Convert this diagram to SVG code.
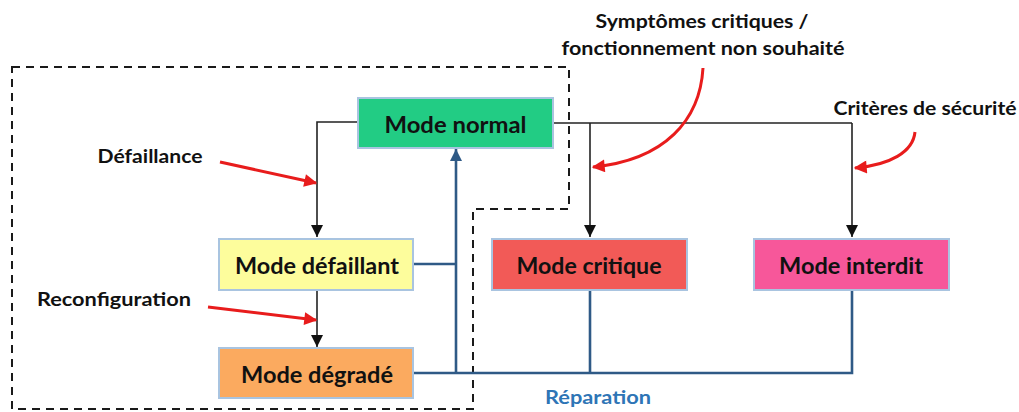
<svg xmlns="http://www.w3.org/2000/svg" width="1019" height="412" viewBox="0 0 1019 412">
<style>
.box{stroke:#a9c4e0;stroke-width:2}
.t{font-family:Lato,"Liberation Sans",sans-serif;font-weight:bold;fill:#111;text-anchor:middle;dominant-baseline:central}
.bt{font-size:22px}
.lb{font-size:19px}
.blk{fill:none;stroke:#222;stroke-width:1.6}
.blu{fill:none;stroke:#2f5a86;stroke-width:2.6}
.red{fill:none;stroke:#e81c1c;stroke-width:3}
</style>
<defs>
<marker id="ab" viewBox="0 0 10 10" refX="10" refY="5" markerWidth="13" markerHeight="12" markerUnits="userSpaceOnUse" orient="auto"><path d="M0,0 L10,5 L0,10 Z" fill="#111"/></marker>
<marker id="au" viewBox="0 0 10 10" refX="10" refY="5" markerWidth="14" markerHeight="12" markerUnits="userSpaceOnUse" orient="auto"><path d="M0,0 L10,5 L0,10 Z" fill="#2f5a86"/></marker>
<marker id="ar" viewBox="0 0 10 10" refX="9" refY="5" markerWidth="15" markerHeight="13" markerUnits="userSpaceOnUse" orient="auto"><path d="M0,0 L10,5 L0,10 Z" fill="#e81c1c"/></marker>
</defs>
<rect width="1019" height="412" fill="#fff"/>
<path d="M12,67 H569 V209 H473 V409 H12 Z" fill="none" stroke="#1a1a1a" stroke-width="2" stroke-dasharray="8,6"/>
<g id="connectors">
<path class="blk" d="M358,122 H317 V237" marker-end="url(#ab)"/>
<path class="blk" d="M553,123 H852"/>
<path class="blk" d="M590,123 V237" marker-end="url(#ab)"/>
<path class="blk" d="M852,123 V237" marker-end="url(#ab)"/>
<path class="blk" d="M317,290 V347" marker-end="url(#ab)"/>
<path class="blu" d="M413,264 H456"/>
<path class="blu" d="M456,373 V149" marker-end="url(#au)"/>
<path class="blu" d="M413,373 H852 V290"/>
<path class="blu" d="M590,290 V373"/>
<path class="red" d="M220,162 L316,183" marker-end="url(#ar)"/>
<path class="red" d="M208,307 L316,320" marker-end="url(#ar)"/>
<path class="red" d="M703,68 C700,120 665,160 593,167" marker-end="url(#ar)"/>
<path class="red" d="M915,132 C913,152 890,165 855,168" marker-end="url(#ar)"/>
</g>
<g id="mode-normal"><rect class="box" x="358" y="98" width="195" height="50" fill="#22cc84"/><text class="t bt" x="455.5" y="124" textLength="142" lengthAdjust="spacingAndGlyphs">Mode normal</text></g>
<g id="mode-defaillant"><rect class="box" x="219" y="239" width="194" height="51" fill="#fdfd9c"/><text class="t bt" x="317" y="265" textLength="164" lengthAdjust="spacingAndGlyphs">Mode défaillant</text></g>
<g id="mode-degrade"><rect class="box" x="219" y="348" width="194" height="50" fill="#fbaa5f"/><text class="t bt" x="317" y="374" textLength="152" lengthAdjust="spacingAndGlyphs">Mode dégradé</text></g>
<g id="mode-critique"><rect class="box" x="492" y="239" width="195" height="51" fill="#f25a57"/><text class="t bt" x="589" y="265" textLength="145" lengthAdjust="spacingAndGlyphs">Mode critique</text></g>
<g id="mode-interdit"><rect class="box" x="754" y="239" width="195" height="51" fill="#f7579a"/><text class="t bt" x="851" y="265" textLength="144" lengthAdjust="spacingAndGlyphs">Mode interdit</text></g>
<g id="labels">
<text class="t lb" x="150" y="155" textLength="105" lengthAdjust="spacingAndGlyphs">Défaillance</text>
<text class="t lb" x="114" y="298" textLength="154" lengthAdjust="spacingAndGlyphs">Reconfiguration</text>
<text class="t lb" x="702" y="20" textLength="213" lengthAdjust="spacingAndGlyphs">Symptômes critiques /</text>
<text class="t lb" x="703" y="47" textLength="283" lengthAdjust="spacingAndGlyphs">fonctionnement non souhaité</text>
<text class="t lb" x="925" y="107" textLength="183" lengthAdjust="spacingAndGlyphs">Critères de sécurité</text>
<text class="t lb" x="598" y="396" textLength="106" lengthAdjust="spacingAndGlyphs" style="fill:#2e75b6">Réparation</text>
</g>
</svg>
